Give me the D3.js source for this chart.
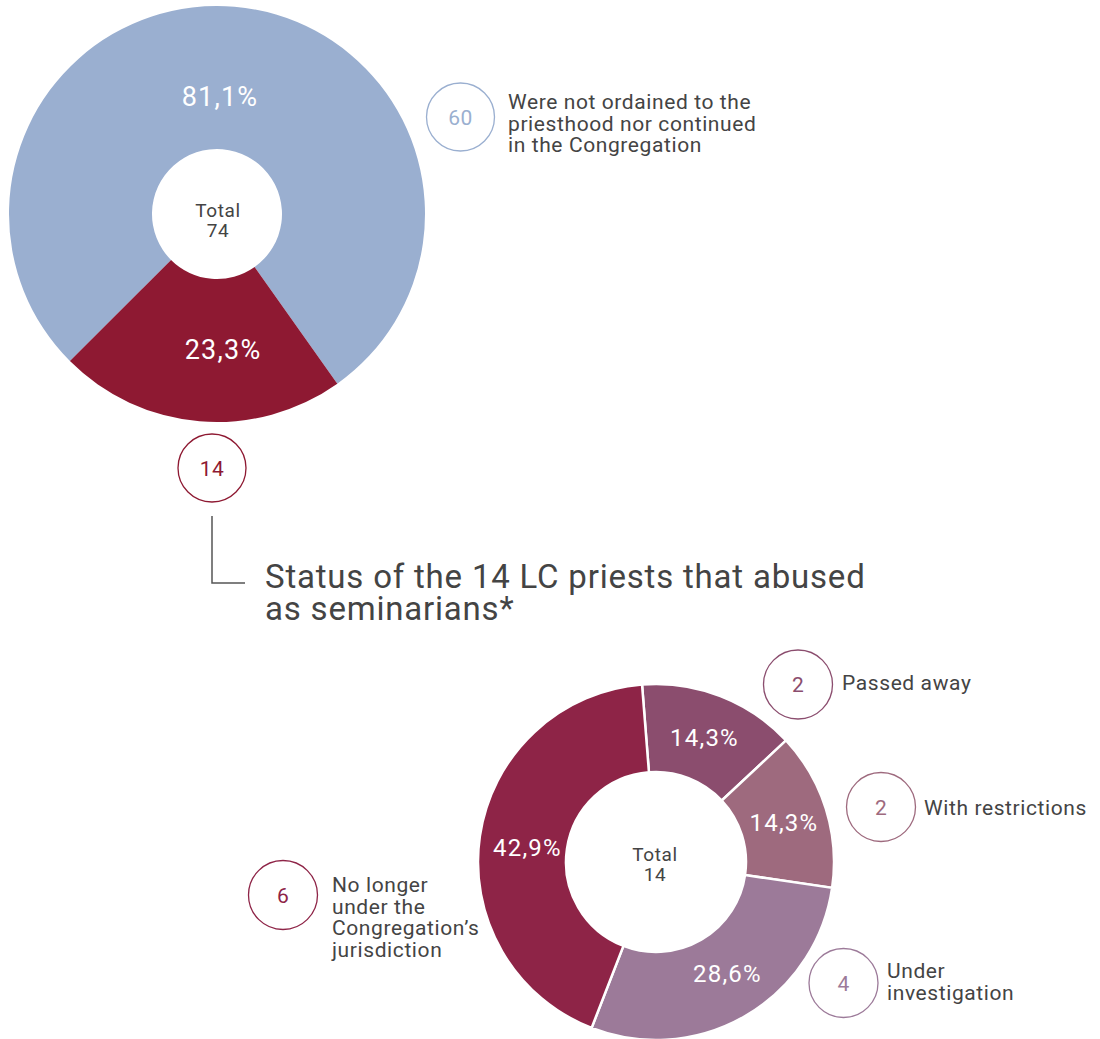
<!DOCTYPE html>
<html><head><meta charset="utf-8">
<script src="https://cdn.jsdelivr.net/npm/d3@7"></script>
<style>body{margin:0;background:#fff} text{font-family:Roboto,"Noto Sans",sans-serif}</style>
</head><body><svg id="c" width="1100" height="1039"></svg>
<script>
// ---- data ----
const topCategories = ["Were not ordained to the priesthood nor continued in the Congregation", "Abused as seminarians"];
const topLabelLines = [["Were not ordained to the", "priesthood nor continued", "in the Congregation"], []];
const topCounts = [60, 14];
const topPercents = [81.1, 23.3];
const topTotal = 74;
const titleLines = ["Status of the 14 LC priests that abused", "as seminarians*"];
const bottomCategories = ["Passed away", "With restrictions", "Under investigation", "No longer under the Congregation’s jurisdiction"];
const bottomLabelLines = [["Passed away"], ["With restrictions"], ["Under", "investigation"], ["No longer", "under the", "Congregation’s", "jurisdiction"]];
const bottomCounts = [2, 2, 4, 6];
const bottomPercents = [14.3, 14.3, 28.6, 42.9];
const bottomTotal = 14;

// ---- styles / layout ----
const topColors = ["#9aafd0", "#8e1932"];
const bottomColors = ["#8b4d6e", "#9e6a7e", "#9c7a99", "#8e2447"];
const textColor = "#444";
const deg = Math.PI / 180;
const loc = d3.formatLocale({decimal: ",", thousands: ".", grouping: [3], currency: ["", ""]});
const pct = v => loc.format(".1f")(v) + "%";

const svg = d3.select("#c");

function multiLine(x, y, lines, size, lh, ls) {
  const t = svg.append("text").attr("x", x).attr("y", y).attr("fill", textColor)
    .attr("font-size", size).attr("letter-spacing", ls);
  lines.forEach((l, j) => t.append("tspan").attr("x", x).attr("dy", j === 0 ? 0 : lh).text(l));
  return t;
}

// ===== top pie =====
const T = {cx: 217, cy: 214, r0: 65, r1: 208};
const gT = svg.append("g").attr("transform", `translate(${T.cx},${T.cy})`);
const pieT = d3.pie().sort(null).value(d => d).startAngle(-135 * deg).endAngle(225 * deg);
const arcsT = pieT(topPercents);
const arcT = d3.arc().innerRadius(T.r0).outerRadius(T.r1);
gT.selectAll("path").data(arcsT).join("path")
  .attr("d", arcT).attr("fill", (d, i) => topColors[i]);
const topLabelR = [118, 135], topLabelNudge = [-3.4, -7.4];
gT.selectAll("text.pl").data(arcsT).join("text").attr("class", "pl")
  .attr("transform", (d, i) => {
    const a = (d.startAngle + d.endAngle) / 2 + topLabelNudge[i] * deg;
    return `translate(${Math.sin(a) * topLabelR[i]},${-Math.cos(a) * topLabelR[i]})`;
  })
  .attr("text-anchor", "middle").attr("dy", "0.36em").attr("letter-spacing", 1.2)
  .attr("fill", "#fff").attr("font-size", 27).text((d, i) => pct(topPercents[i]));
const totT = gT.append("text").attr("text-anchor", "middle").attr("fill", textColor)
  .attr("font-size", 19).attr("letter-spacing", 0.6);
totT.append("tspan").attr("x", 1).attr("y", 3).text("Total");
totT.append("tspan").attr("x", 1).attr("y", 23).text(topTotal);

// top badges
const topBadges = [{cx: 460.5, cy: 117, tx: 508, ty: 109}, {cx: 212, cy: 468}];
topBadges.forEach((b, i) => {
  svg.append("circle").attr("cx", b.cx).attr("cy", b.cy).attr("r", 34)
    .attr("fill", "none").attr("stroke", topColors[i]).attr("stroke-width", 1.3);
  svg.append("text").attr("x", b.cx).attr("y", b.cy).attr("dy", "0.36em").attr("text-anchor", "middle")
    .attr("fill", topColors[i]).attr("font-size", 21).attr("letter-spacing", 0.5).text(topCounts[i]);
  if (topLabelLines[i].length) multiLine(b.tx, b.ty, topLabelLines[i], 21, 21.5, 0.6);
});

// connector + title
svg.append("path").attr("d", "M212,516V583H245").attr("fill", "none").attr("stroke", "#555").attr("stroke-width", 1.5);
multiLine(265, 588, titleLines, 33, 32, 0.8);

// ===== bottom donut =====
const B = {cx: 656, cy: 862, r0: 90, r1: 178};
const gB = svg.append("g").attr("transform", `translate(${B.cx},${B.cy})`);
const startB = -4.5 * deg;
const pieB = d3.pie().sort(null).value(d => d).startAngle(startB).endAngle(startB + 2 * Math.PI);
const arcsB = pieB(bottomCounts);
const arcB = d3.arc().innerRadius(B.r0).outerRadius(B.r1);
gB.selectAll("path").data(arcsB).join("path")
  .attr("d", arcB).attr("fill", (d, i) => bottomColors[i])
  .attr("stroke", "#fff").attr("stroke-width", 2.5);
const labelArcB = d3.arc().innerRadius(134).outerRadius(134);
const bottomNudge = [[0, 0], [0, 0], [4, -4], [4, 5]];
gB.selectAll("text.pl").data(arcsB).join("text").attr("class", "pl")
  .attr("transform", (d, i) => {
    const c = labelArcB.centroid(d);
    return `translate(${c[0] + bottomNudge[i][0]},${c[1] + bottomNudge[i][1]})`;
  })
  .attr("text-anchor", "middle").attr("dy", "0.36em").attr("letter-spacing", 1.2)
  .attr("fill", "#fff").attr("font-size", 24).text((d, i) => pct(bottomPercents[i]));
const totB = gB.append("text").attr("text-anchor", "middle").attr("fill", textColor)
  .attr("font-size", 19).attr("letter-spacing", 0.6);
totB.append("tspan").attr("x", -1).attr("y", -1).text("Total");
totB.append("tspan").attr("x", -1).attr("y", 19).text(bottomTotal);

const bottomBadges = [
  {cx: 798, cy: 684.5, tx: 842, ty: 690},
  {cx: 881, cy: 807, tx: 924, ty: 815},
  {cx: 843.5, cy: 983, tx: 887, ty: 978},
  {cx: 283, cy: 895, tx: 332, ty: 892}
];
bottomBadges.forEach((b, i) => {
  svg.append("circle").attr("cx", b.cx).attr("cy", b.cy).attr("r", 34.5)
    .attr("fill", "none").attr("stroke", bottomColors[i]).attr("stroke-width", 1.3);
  svg.append("text").attr("x", b.cx).attr("y", b.cy).attr("dy", "0.36em").attr("text-anchor", "middle")
    .attr("fill", bottomColors[i]).attr("font-size", 21).text(bottomCounts[i]);
  multiLine(b.tx, b.ty, bottomLabelLines[i], 21, 21.5, 0.6);
});
</script></body></html>
